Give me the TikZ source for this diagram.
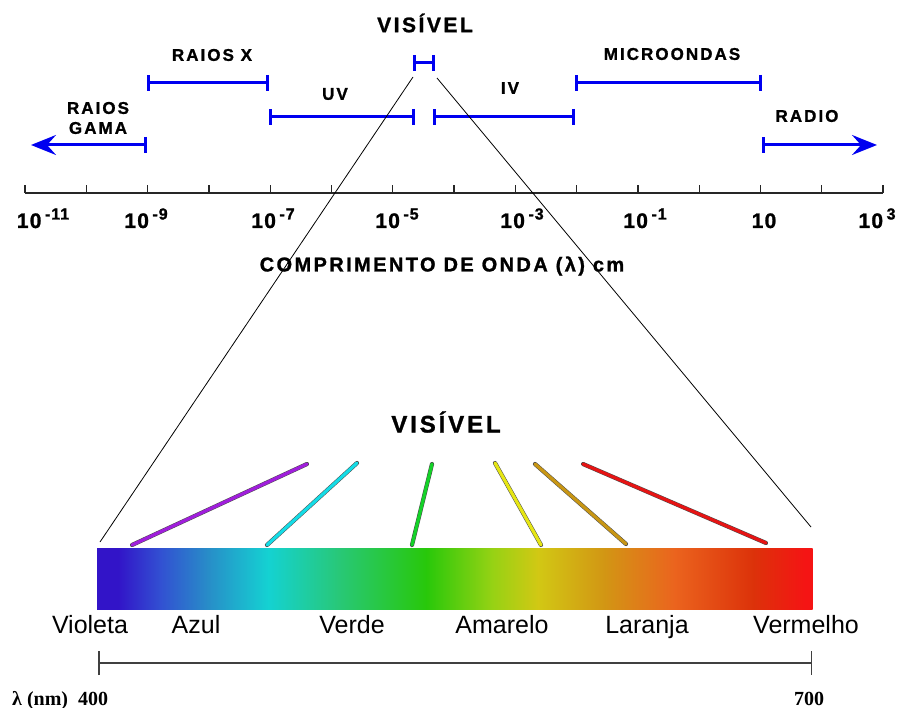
\documentclass[tikz,border=0pt]{standalone}
\usepackage{fontspec}
\setmainfont{Liberation Sans}
\newfontfamily\tms{Liberation Serif}
\newfontfamily\wsp[LetterSpace=12,BoldFeatures={FakeBold=1.2}]{Liberation Sans}
\newfontfamily\dig[LetterSpace=6,BoldFeatures={FakeBold=1.2}]{Liberation Sans}
\usetikzlibrary{arrows.meta}
\definecolor{c1}{RGB}{50,20,200}
\definecolor{c2}{RGB}{50,80,210}
\definecolor{c3}{RGB}{40,140,200}
\definecolor{c4}{RGB}{20,210,210}
\definecolor{c5}{RGB}{40,200,120}
\definecolor{c6}{RGB}{40,200,10}
\definecolor{c7}{RGB}{150,210,20}
\definecolor{c8}{RGB}{210,200,20}
\definecolor{c9}{RGB}{210,150,20}
\definecolor{c10}{RGB}{235,100,30}
\definecolor{c11}{RGB}{220,50,10}
\definecolor{c12}{RGB}{245,20,20}
\definecolor{bandblue}{RGB}{0,0,240}
\definecolor{scalegray}{RGB}{64,64,64}
\tikzset{
  band/.style={draw=bandblue,line width=3pt},
  bartip/.tip={Bar[width=16pt]},
  headtip/.tip={Stealth[length=25pt,width=20pt,inset=9pt]},
  tag/.style={font=\bfseries\wsp\fontsize{17}{19}\selectfont,inner sep=0pt},
  expo/.style={font=\bfseries\dig\fontsize{21}{23}\selectfont,anchor=base,inner sep=0pt},
  colname/.style={font=\fontsize{25}{27}\selectfont,anchor=base,inner sep=0pt},
  ray/.style={line width=3.2pt,line cap=round,preaction={draw=black!70,line width=4.2pt,line cap=round}}
}
\newcommand{\supr}[1]{\,\raisebox{8.5pt}{\fontsize{16}{16}\selectfont#1}}
\begin{document}
\begin{tikzpicture}[x=1pt,y=-1pt]
\useasboundingbox (0,0) rectangle (897,708);
\coordinate (a0) at (25,193);
\coordinate (a1) at (883,193);
\draw[line width=1.3pt,black!85] (a0) -- (a1);
\foreach \i in {0,...,14}
  \draw[line width=1.3pt,black!85] (25+61.29*\i,193) -- ++(0,-8);
\foreach \x/\e in {43/{-11},146/{-9},273/{-7},397/{-5},522/{-3},645/{-1}}
  \node[expo] at (\x,228) {10\supr{\e}};
\node[expo] (ten) at (764,228) {10};
\node[expo] (kilo) at (877,228) {10\supr{3}};
\node[font=\bfseries\wsp\fontsize{20}{22}\selectfont,inner sep=0pt] (lam) at (442,266) {COMPRIMENTO DE ONDA (λ) cm};
\coordinate (g0) at (31,145);
\coordinate (g1) at (147,145);
\coordinate (x0) at (147,83);
\coordinate (x1) at (269,83);
\coordinate (u0) at (269,117);
\coordinate (u1) at (415,117);
\coordinate (v0) at (413,63);
\coordinate (v1) at (435,63);
\coordinate (i0) at (433,117);
\coordinate (i1) at (575,117);
\coordinate (m0) at (575,83);
\coordinate (m1) at (762,83);
\coordinate (r0) at (762,145);
\coordinate (r1) at (877,145);
\draw[band,{bartip}-{headtip}] (g1) -- (g0);
\draw[band,{bartip}-{bartip}] (x0) -- (x1);
\draw[band,{bartip}-{bartip}] (u0) -- (u1);
\draw[band,{bartip}-{bartip}] (v0) -- (v1);
\draw[band,{bartip}-{bartip}] (i0) -- (i1);
\draw[band,{bartip}-{bartip}] (m0) -- (m1);
\draw[band,{bartip}-{headtip}] (r0) -- (r1);
\node[font=\bfseries\wsp\fontsize{21}{23}\selectfont,inner sep=0pt] (vis) at (425,23) {VISÍVEL};
\node[tag] (rx) at (212,55) {RAIOS X};
\node[tag] (uv) at (335,94) {UV};
\node[tag,align=center,font=\bfseries\wsp\fontsize{17}{20}\selectfont] (gama) at (98,118) {RAIOS\\GAMA};
\node[tag] (iv) at (510,88) {IV};
\node[tag] (mic) at (672,54) {MICROONDAS};
\node[tag] (rad) at (807,116) {RADIO};
\node[font=\bfseries\wsp\fontsize{24}{26}\selectfont,inner sep=0pt] (vis2) at (446,422) {VISÍVEL};
\coordinate (f0) at (413,77);
\coordinate (f1) at (437,78);
\coordinate (f2) at (100,542);
\coordinate (f3) at (811,527);
\draw[line width=0.8pt] (f0) -- (f2);
\draw[line width=0.8pt] (f1) -- (f3);
\foreach \xa/\xb/\ca/\cb in {97/118/c1/c1,118/160/c1/c2,160/207/c2/c3,207/268/c3/c4,268/338/c4/c5,338/426/c5/c6,426/492/c6/c7,492/538/c7/c8,538/604/c8/c9,604/674/c9/c10,674/753/c10/c11,753/805/c11/c12,805/812/c12/c12}
  \shade[left color=\ca,right color=\cb,shading angle=90] (\xa,548) rectangle (\xb+0.5,609);
\node[minimum width=715pt,minimum height=61pt,inner sep=0pt] (bar) at (454.5,578.5) {};
\coordinate (p0) at (132,545);
\coordinate (p1) at (307,464);
\coordinate (q0) at (267,545);
\coordinate (q1) at (357,463);
\coordinate (s0) at (412,545);
\coordinate (s1) at (432,464);
\coordinate (y0) at (541,545);
\coordinate (y1) at (495,463);
\coordinate (o0) at (626,544);
\coordinate (o1) at (535,464);
\coordinate (e0) at (766,543);
\coordinate (e1) at (583,464);
\draw[ray,draw={rgb,255:red,160;green,30;blue,220}] (p0) -- (p1);
\draw[ray,draw={rgb,255:red,20;green,220;blue,230}] (q0) -- (q1);
\draw[ray,draw={rgb,255:red,20;green,210;blue,40}] (s0) -- (s1);
\draw[ray,draw={rgb,255:red,230;green,230;blue,20}] (y0) -- (y1);
\draw[ray,draw={rgb,255:red,200;green,150;blue,20}] (o0) -- (o1);
\draw[ray,draw={rgb,255:red,230;green,20;blue,20}] (e0) -- (e1);
\node[colname] (vio) at (90,633) {Violeta};
\node[colname] (azu) at (196,633) {Azul};
\node[colname] (ver) at (352,633) {Verde};
\node[colname] (ama) at (502,633) {Amarelo};
\node[colname] (lar) at (647,633) {Laranja};
\node[colname] (vrm) at (806,633) {Vermelho};
\coordinate (n0) at (98,663);
\coordinate (n1) at (812,663);
\draw[line width=1.5pt,scalegray,{Bar[width=24pt]}-{Bar[width=24pt]}] (n0) -- (n1);
\node[font=\tms\bfseries\fontsize{20}{22}\selectfont,anchor=base west,inner sep=0pt] (nm) at (12,705) {λ (nm)~~400};
\node[font=\tms\bfseries\fontsize{20}{22}\selectfont,anchor=base,inner sep=0pt] (sev) at (809,705) {700};
\end{tikzpicture}
\end{document}
